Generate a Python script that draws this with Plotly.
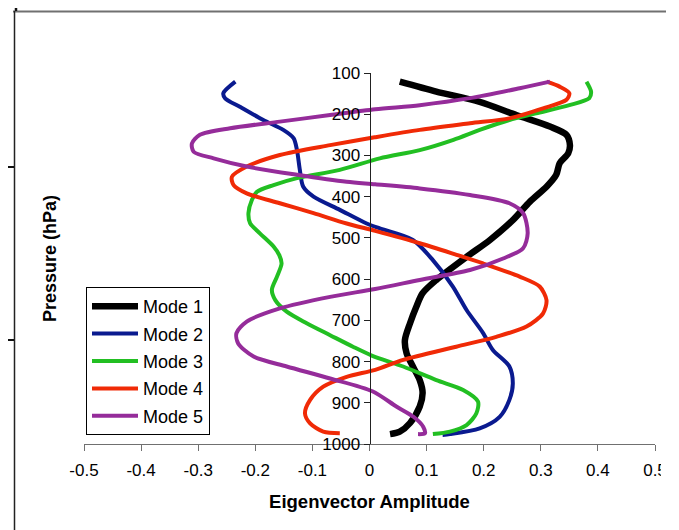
import plotly.graph_objects as go

# ---- data (eigenvector amplitude vs pressure, hPa) ----
mode1_x = [0.053, 0.117, 0.193, 0.257, 0.316, 0.345, 0.351, 0.348, 0.333, 0.327, 0.310, 0.281, 0.251,
           0.211, 0.170, 0.117, 0.093, 0.082, 0.071, 0.062, 0.065, 0.076, 0.088, 0.093, 0.088, 0.071,
           0.053, 0.036]
mode1_p = [121, 145, 170, 202, 230, 250, 275, 295, 319, 347, 376, 412, 457,
           505, 546, 602, 634, 667, 707, 748, 780, 812, 845, 876, 909, 949,
           970, 976]

mode2_x = [-0.235, -0.256, -0.253, -0.227, -0.186, -0.151, -0.133, -0.127, -0.122, -0.116, -0.098,
           -0.052, -0.005, 0.018, 0.076, 0.111, 0.146, 0.170, 0.199, 0.216, 0.245, 0.251, 0.245,
           0.228, 0.193, 0.141, 0.128]
mode2_p = [121, 149, 161, 182, 214, 238, 258, 287, 335, 376, 400,
           432, 465, 477, 505, 554, 618, 675, 731, 772, 812, 853, 893,
           934, 962, 976, 978]

mode3_x = [0.380, 0.388, 0.385, 0.350, 0.292, 0.245, 0.193, 0.147, 0.088, 0.018, -0.052, -0.127,
           -0.168, -0.197, -0.206, -0.212, -0.209, -0.192, -0.168, -0.158, -0.154, -0.162, -0.171,
           -0.165, -0.145, -0.110, -0.069, -0.029, 0.005, 0.059, 0.117, 0.164, 0.190, 0.187, 0.170,
           0.141, 0.111]
mode3_p = [121, 145, 161, 178, 198, 214, 238, 262, 287, 307, 335, 355,
           372, 388, 408, 440, 465, 489, 521, 542, 562, 594, 626,
           651, 679, 707, 736, 764, 786, 812, 845, 869, 897, 926, 954,
           970, 976]

mode4_x = [0.310, 0.333, 0.350, 0.345, 0.304, 0.245, 0.176, 0.088, 0.009, -0.069, -0.157, -0.215,
           -0.241, -0.238, -0.215, -0.157, -0.098, -0.040, 0.010, 0.088, 0.150, 0.199, 0.263, 0.298,
           0.310, 0.304, 0.275, 0.222, 0.152, 0.059, 0.010, -0.040, -0.081, -0.104, -0.113, -0.104,
           -0.081, -0.052]
mode4_p = [121, 133, 149, 165, 186, 210, 222, 238, 256, 275, 299, 327,
           352, 372, 392, 416, 440, 465, 483, 513, 540, 562, 594, 618,
           651, 683, 715, 740, 764, 796, 820, 837, 861, 893, 926, 950,
           970, 974]

mode5_x = [0.316, 0.263, 0.176, 0.088, 0.010, -0.069, -0.157, -0.244, -0.297, -0.311, -0.308, -0.273,
           -0.215, -0.127, -0.040, 0.010, 0.088, 0.176, 0.245, 0.269, 0.277, 0.269, 0.234, 0.176,
           0.088, 0.010, -0.069, -0.157, -0.215, -0.233, -0.230, -0.203, -0.145, -0.069, 0.005,
           0.047, 0.077, 0.094, 0.097, 0.085]
mode5_p = [121, 137, 161, 178, 188, 202, 218, 234, 250, 271, 291, 307,
           327, 347, 364, 370, 380, 396, 416, 440, 489, 525, 550, 578,
           602, 624, 643, 671, 703, 731, 756, 788, 812, 841, 872,
           909, 934, 958, 974, 976]

series_names = ["Mode 1", "Mode 2", "Mode 3", "Mode 4", "Mode 5"]
series_x = [mode1_x, mode2_x, mode3_x, mode4_x, mode5_x]
series_p = [mode1_p, mode2_p, mode3_p, mode4_p, mode5_p]

x_ticks = [-0.5, -0.4, -0.3, -0.2, -0.1, 0, 0.1, 0.2, 0.3, 0.4, 0.5]
x_ticklabels = ["-0.5", "-0.4", "-0.3", "-0.2", "-0.1", "0", "0.1", "0.2", "0.3", "0.4", "0.5"]
y_ticks = [100, 200, 300, 400, 500, 600, 700, 800, 900, 1000]

colors = ["#000000", "#0a1a8f", "#22bf22", "#f02a06", "#952c9a"]
widths = [6.5, 4, 4, 4, 4]

FONT = "Liberation Sans, Arial, sans-serif"

fig = go.Figure()
for name, xs, ps, c, w in zip(series_names, series_x, series_p, colors, widths):
    fig.add_trace(go.Scatter(x=xs, y=ps, mode="lines", name=name, legendgroup=name,
                             line=dict(color=c, width=w, shape="spline", smoothing=0.8)))

# page offset (browser body margin) and target page-pixel layout
OFF = 8
W, H = 679 - OFF, 530 - OFF
PL, PR, PT, PB = 84, 655, 73, 444          # plot area in page pixels
L, T = PL - OFF, PT - OFF
R, B = W - (PR - OFF), H - (PB - OFF)
pw, ph = PR - PL, PB - PT


def px(xp):
    return (xp - PL) / pw


def py(yp):
    return 1 - (yp - PT) / ph


shapes = [
    # page-frame remnants around the chart
    dict(type="line", xref="paper", yref="paper", x0=px(13), x1=px(666), y0=py(11.5), y1=py(11.5),
         line=dict(color="#707070", width=2)),
    dict(type="line", xref="paper", yref="paper", x0=px(14.5), x1=px(14.5), y0=py(11), y1=py(531),
         line=dict(color="#222222", width=1.5)),
    dict(type="line", xref="paper", yref="paper", x0=px(16), x1=px(16), y0=py(-1), y1=py(11),
         line=dict(color="#111111", width=2.5)),
    dict(type="line", xref="paper", yref="paper", x0=px(0), x1=px(14), y0=py(167), y1=py(167),
         line=dict(color="#111111", width=2)),
    dict(type="line", xref="paper", yref="paper", x0=px(0), x1=px(14), y0=py(340), y1=py(340),
         line=dict(color="#111111", width=2)),
    # clip of the right-most tick label, as in the source image
    dict(type="rect", xref="paper", yref="paper", x0=px(661), x1=px(690), y0=py(452), y1=py(485),
         fillcolor="white", line=dict(width=0), layer="above"),
]

fig.update_layout(
    width=W, height=H,
    margin=dict(l=L, r=R, t=T, b=B, autoexpand=False),
    paper_bgcolor="white", plot_bgcolor="white",
    font=dict(family=FONT, size=17, color="black"),
    showlegend=True,
    legend=dict(x=px(86), y=py(287), xanchor="left", yanchor="top",
                bgcolor="white", bordercolor="#000000", borderwidth=1,
                font=dict(family=FONT, size=18, color="black"),
                itemwidth=46, traceorder="grouped", tracegroupgap=1),
    xaxis=dict(range=[-0.5, 0.5], tickvals=x_ticks, ticktext=x_ticklabels,
               showgrid=False, zeroline=False, showline=True, linecolor="#707070", linewidth=1,
               ticks="outside", ticklen=6, tickcolor="#707070", ticklabelstandoff=5,
               tickfont=dict(family=FONT, size=17),
               title=dict(text="<b>Eigenvector Amplitude</b>", standoff=15,
                          font=dict(family=FONT, size=18.5))),
    yaxis=dict(range=[1000, 100], tickvals=y_ticks, anchor="free", position=0.5,
               showgrid=False, zeroline=False, showline=True, linecolor="#222222", linewidth=1,
               ticks="outside", ticklen=6, tickcolor="#222222",
               tickfont=dict(family=FONT, size=17)),
    shapes=shapes,
    annotations=[dict(text="<b>Pressure (hPa)</b>", xref="paper", yref="paper",
                      x=px(50), y=py(259), xanchor="center", yanchor="middle",
                      textangle=-90, showarrow=False,
                      font=dict(family=FONT, size=18, color="black"))],
)

fig.write_html("out.html")
